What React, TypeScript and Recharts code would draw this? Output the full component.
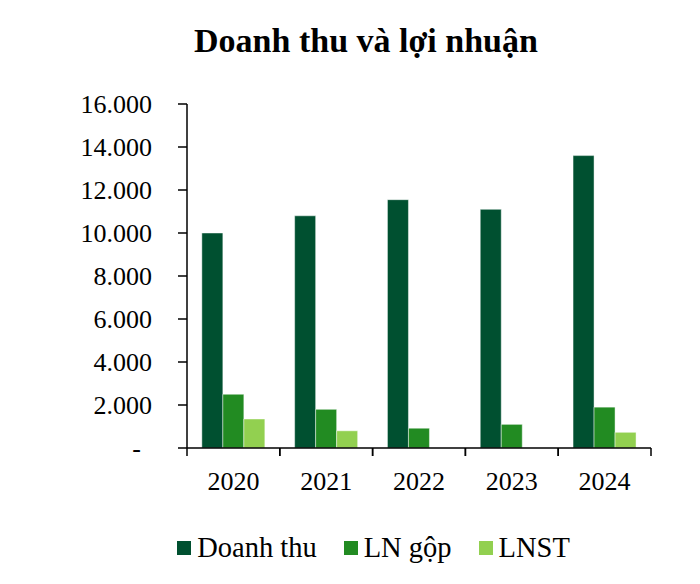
import { BarChart, Bar, XAxis, YAxis, Legend } from "recharts";

const years = ["2020", "2021", "2022", "2023", "2024"];
const revenue = [10000, 10800, 11550, 11100, 13600];
const grossProfit = [2500, 1800, 920, 1100, 1900];
const netProfit = [1350, 800, null, null, 730];
const yTicks = [0, 2000, 4000, 6000, 8000, 10000, 12000, 14000, 16000];

const series = [
  { key: "revenue", name: "Doanh thu", color: "#005030" },
  { key: "gross", name: "LN gộp", color: "#228B22" },
  { key: "net", name: "LNST", color: "#92D050" },
];

const data = years.map((year, i) => ({
  year,
  revenue: revenue[i],
  gross: grossProfit[i],
  net: netProfit[i],
}));

const FONT = "Liberation Serif, Times New Roman, serif";

function YTick(props: any) {
  const { x, y, payload } = props;
  const v = payload.value as number;
  const label = v === 0 ? "-" : v.toLocaleString("de-DE");
  return (
    <text x={x} y={y} dx={v === 0 ? -11 : 0} dy="0.35em" textAnchor="end" style={{ fontFamily: FONT, fontSize: 26 }} fill="#000">
      {label}
    </text>
  );
}

function XTick(props: any) {
  const { x, y, payload } = props;
  const half = payload.offset ?? 0;
  const axisY = y - 24;
  return (
    <g>
      <line x1={x - half} x2={x - half} y1={axisY} y2={axisY + 8} stroke="#000" strokeWidth={1.5} />
      <line x1={x + half} x2={x + half} y1={axisY} y2={axisY + 8} stroke="#000" strokeWidth={1.5} />
      <text x={x} y={y} dy="0.71em" textAnchor="middle" style={{ fontFamily: FONT, fontSize: 26 }} fill="#000">
        {payload.value}
      </text>
    </g>
  );
}

function LegendContent() {
  return (
    <div style={{ display: "flex", justifyContent: "center", paddingLeft: 96, height: 40, alignItems: "center", fontFamily: FONT, fontSize: 28.5, color: "#000" }}>
      {series.map((s, i) => (
        <div key={s.key} style={{ display: "flex", alignItems: "center", marginLeft: i === 0 ? 0 : 27 }}>
          <span style={{ width: 14, height: 14, background: s.color, display: "inline-block", marginRight: 6 }} />
          <span>{s.name}</span>
        </div>
      ))}
    </div>
  );
}

export default function App() {
  return (
    <div style={{ position: "absolute", left: 0, top: 0, width: 700, height: 584, background: "#fff" }}>
      <div style={{ position: "absolute", left: 0, top: 24, width: 732, textAlign: "center", fontFamily: FONT, fontWeight: "bold", fontSize: 34, lineHeight: "34px", color: "#000" }}>
        Doanh thu và lợi nhuận
      </div>
      <BarChart
        width={700}
        height={584}
        data={data}
        margin={{ top: 104, right: 49, left: 0, bottom: 16 }}
        barCategoryGap="16%"
        barGap={0}
      >
        <XAxis
          dataKey="year"
          height={80}
          tickLine={false}
          tickSize={8}
          tickMargin={16}
          axisLine={{ stroke: "#000", strokeWidth: 1.5 }}
          tick={<XTick />}
          interval={0}
        />
        <YAxis
          width={187}
          domain={[0, 16000]}
          ticks={yTicks}
          interval={0}
          tickSize={9}
          tickMargin={26}
          tickLine={{ stroke: "#000", strokeWidth: 1.5 }}
          axisLine={{ stroke: "#000", strokeWidth: 1.5 }}
          tick={<YTick />}
        />
        <Legend verticalAlign="bottom" content={<LegendContent />} />
        {series.map((s) => (
          <Bar
            key={s.key}
            dataKey={s.key}
            name={s.name}
            fill={s.color}
            stroke="rgba(255,255,255,0.45)"
            strokeWidth={1}
            isAnimationActive={false}
          />
        ))}
      </BarChart>
    </div>
  );
}
